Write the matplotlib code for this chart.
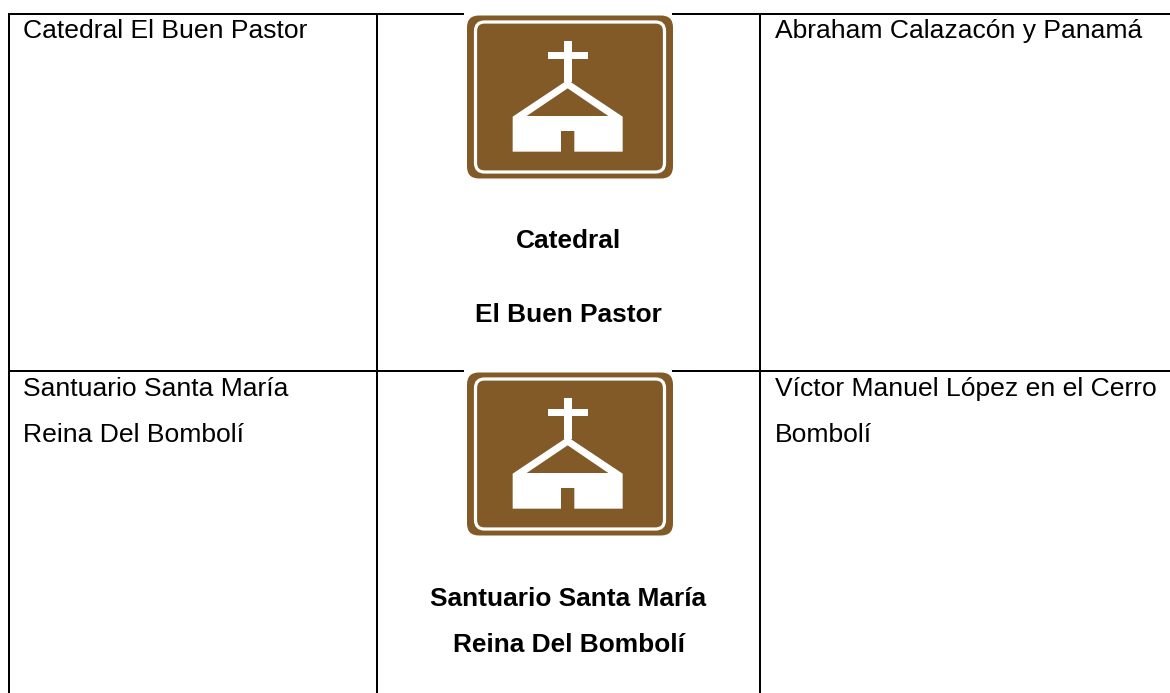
import matplotlib
matplotlib.use("Agg")
import matplotlib.pyplot as plt
from matplotlib.patches import FancyBboxPatch, Polygon, Rectangle

plt.rcParams['font.family'] = ['Liberation Sans', 'DejaVu Sans']

W, H = 1170, 693
BROWN = '#825a27'

col_left = ["Catedral El Buen Pastor", "Santuario Santa María\nReina Del Bombolí"]
col_right = ["Abraham Calazacón y Panamá", "Víctor Manuel López en el Cerro\nBombolí"]
captions = [["Catedral", "El Buen Pastor"], ["Santuario Santa María", "Reina Del Bombolí"]]

row_tops = [14, 371]
col_lines = [9, 377, 760]
icon_tops = [15.5, 372.5]
left_text_y = [[38], [396, 442]]
right_text_y = [[38], [396, 442]]
caption_y = [[248, 322], [606, 652]]

fig = plt.figure(figsize=(W / 100, H / 100), dpi=100, facecolor='white')
ax = fig.add_axes([0, 0, 1, 1])
ax.set_xlim(0, W)
ax.set_ylim(H, 0)
ax.axis('off')

LW = 2 * 72 / 100
for y in row_tops:
    ax.plot([8, W], [y, y], color='black', lw=LW, solid_capstyle='butt', zorder=1)
for x in col_lines:
    ax.plot([x, x], [13, H], color='black', lw=LW, solid_capstyle='butt', zorder=1)


def Z(points, top):
    # points from a 3x crop of the icon, relative to crop origin (450, 0)
    return [(450 + px / 3, top - 15.5 + py / 3) for px, py in points]


def icon(top):
    ax.add_patch(Rectangle((464, top - 2.5), 208, 168, fc='white', ec='none', zorder=2))
    ax.add_patch(FancyBboxPatch((467 + 12, top + 12), 206 - 24, 163 - 24,
                                boxstyle="round,pad=12,rounding_size=12",
                                fc=BROWN, ec='none', zorder=3))
    ax.add_patch(FancyBboxPatch((475.5 + 9, top + 6.5 + 9), 189 - 18, 150 - 18,
                                boxstyle="round,pad=9,rounding_size=9",
                                fc='none', ec='white', lw=2.3, zorder=4))
    kw = dict(fc='white', ec='none', zorder=4)
    ax.add_patch(Polygon(Z([(342, 122), (365, 122), (365, 245), (342, 245)], top), **kw))
    ax.add_patch(Polygon(Z([(295, 157), (413, 157), (413, 177), (295, 177)], top), **kw))
    ax.add_patch(Polygon(Z([(353, 240), (518, 350), (518, 455), (373, 455), (373, 393),
                            (333, 393), (333, 455), (188, 455), (188, 350)], top), **kw))
    ax.add_patch(Polygon(Z([(353, 265), (475, 348), (230, 348)], top), fc=BROWN, ec='none', zorder=5))


for t in icon_tops:
    icon(t)

FS = 19.05
FSB = 18.9
for i in range(2):
    for line, y in zip(col_left[i].split("\n"), left_text_y[i]):
        ax.text(23, y, line, fontsize=FS, va='baseline', ha='left', color='black', zorder=6)
    for line, y in zip(col_right[i].split("\n"), right_text_y[i]):
        ax.text(775, y, line, fontsize=FS, va='baseline', ha='left', color='black', zorder=6)
    for line, y in zip(captions[i], caption_y[i]):
        ax.text(568.5, y, line, fontsize=FSB, fontweight='bold', va='baseline', ha='center', color='black', zorder=6)

fig.savefig('out.png', dpi=100, facecolor='white')
